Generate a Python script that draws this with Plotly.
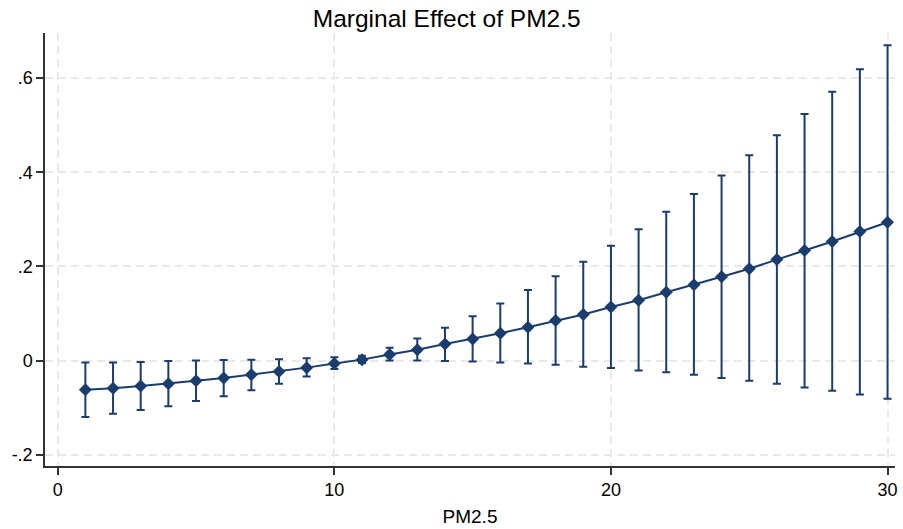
import plotly.graph_objects as go

pm25 = list(range(1, 31))
effect = [-0.062, -0.059, -0.054, -0.049, -0.043, -0.037, -0.030, -0.023, -0.015, -0.006,
          0.002, 0.013, 0.023, 0.035, 0.046, 0.058, 0.071, 0.085, 0.098, 0.114,
          0.128, 0.145, 0.161, 0.178, 0.195, 0.215, 0.234, 0.253, 0.274, 0.294]
upper = [-0.004, -0.004, -0.003, -0.001, 0.000, 0.001, 0.002, 0.003, 0.005, 0.007,
         0.010, 0.027, 0.047, 0.070, 0.094, 0.121, 0.150, 0.179, 0.210, 0.244,
         0.279, 0.316, 0.354, 0.393, 0.436, 0.479, 0.524, 0.571, 0.619, 0.670]
lower = [-0.120, -0.113, -0.105, -0.097, -0.086, -0.076, -0.063, -0.049, -0.034, -0.018,
         -0.005, 0.000, 0.000, -0.001, -0.002, -0.004, -0.006, -0.009, -0.013, -0.016,
         -0.021, -0.025, -0.030, -0.037, -0.043, -0.049, -0.057, -0.064, -0.072, -0.081]

x_ticks = [0, 10, 20, 30]
y_ticks = [-0.2, 0, 0.2, 0.4, 0.6]
y_ticktext = ["-.2", "0", ".2", ".4", ".6"]

navy = "#1a3d6d"
err_plus = [u - e for u, e in zip(upper, effect)]
err_minus = [e - l for e, l in zip(effect, lower)]

fig = go.Figure()
fig.add_trace(go.Scatter(
    x=pm25, y=effect, mode="lines+markers",
    line=dict(color=navy, width=2),
    marker=dict(symbol="diamond", size=10, color=navy),
    error_y=dict(type="data", symmetric=False, array=err_plus, arrayminus=err_minus,
                 color=navy, thickness=2, width=4),
    showlegend=False,
))

grid = dict(showgrid=True, gridcolor="#e9e9e9", gridwidth=1.5, griddash="8px,5px")
fig.update_layout(
    width=903, height=529,
    margin=dict(l=45, r=5, t=33, b=62),
    paper_bgcolor="white", plot_bgcolor="white",
    font=dict(family="Liberation Sans, Arial, sans-serif", color="black"),
    title=dict(text="Marginal Effect of PM2.5", x=0.4947, xanchor="center",
               y=0.966, yanchor="middle", yref="container",
               font=dict(size=24.5, color="black")),
    xaxis=dict(range=[-0.46, 30.27], tickvals=x_ticks, ticks="outside", ticklen=7,
               tickwidth=1.5, tickcolor="#333", showline=True, linecolor="#333",
               linewidth=1.5, zeroline=False, tickfont=dict(size=18),
               title=dict(text="PM2.5", font=dict(size=19), standoff=10), **grid),
    yaxis=dict(range=[-0.224, 0.696], tickvals=y_ticks, ticktext=y_ticktext,
               ticks="outside", ticklen=7, tickwidth=1.5, tickcolor="#333",
               showline=True, linecolor="#333", linewidth=1.5, zeroline=False,
               tickfont=dict(size=18), **grid),
)
fig.write_html("out.html")
